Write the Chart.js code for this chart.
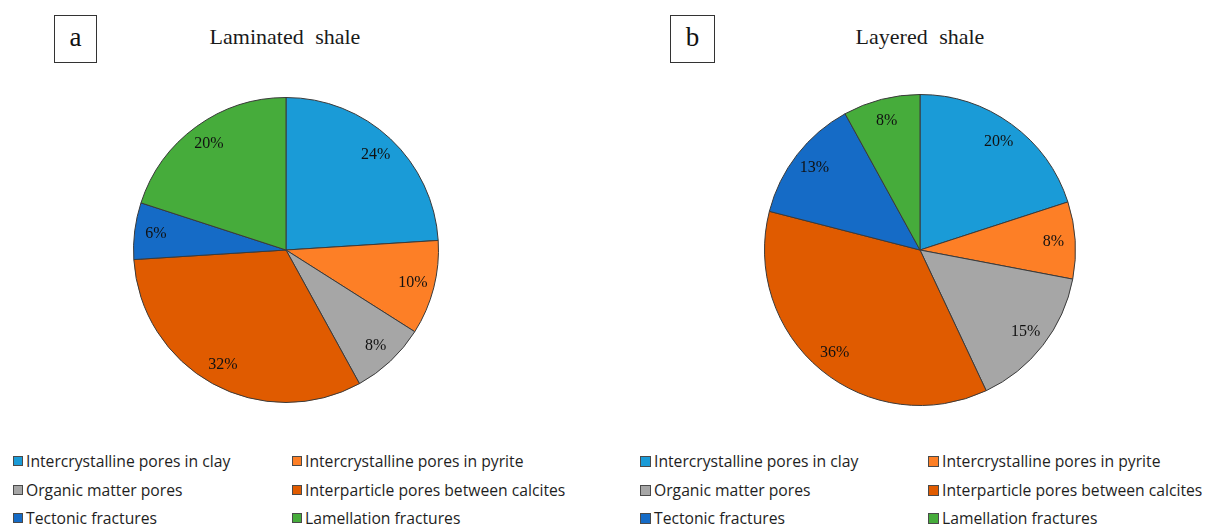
<!DOCTYPE html>
<html>
<head>
<meta charset="utf-8">
<script src="https://cdn.jsdelivr.net/npm/chart.js@4/dist/chart.umd.min.js"></script>
<style>
  html, body { margin: 0; padding: 0; background: #ffffff; }
  #page { position: relative; width: 1217px; height: 528px; overflow: hidden; background: #fff; }
  .panel-box { position: absolute; width: 43px; height: 48px; border: 1.5px solid #333; box-sizing: border-box;
    font-family: "Liberation Serif", "Times New Roman", serif; font-size: 27px; color: #111;
    display: flex; align-items: center; justify-content: center; padding-bottom: 4px; }
  .title { position: absolute; font-family: "Liberation Serif", "Times New Roman", serif; font-size: 22px;
    color: #1a1a1a; word-spacing: 6px; transform: translateX(-50%); white-space: nowrap; }
  .chart-wrap { position: absolute; }
  .legend-item { position: absolute; display: flex; align-items: center; white-space: nowrap;
    font-family: "Open Sans", "Noto Sans", sans-serif; font-size: 15.7px; color: #1e1e1e; transform: translateY(-50%); }
  .legend-swatch { display: inline-block; box-sizing: border-box; border: 1px solid #4a4a4a; margin-right: 3px; }
</style>
</head>
<body>
<div id="page">
  <div class="panel-box" style="left:54px; top:15px;">a</div>
  <div class="panel-box" style="left:670px; top:15px; width:45px;">b</div>
  <div class="title" id="titleA" style="left:285px; top:24px;"></div>
  <div class="title" id="titleB" style="left:920px; top:24px;"></div>
  <div class="chart-wrap" style="left:131px; top:95px; width:310px; height:310px;"><canvas id="pieA"></canvas></div>
  <div class="chart-wrap" style="left:763px; top:93px; width:314px; height:314px;"><canvas id="pieB"></canvas></div>
  <div id="legendA"></div>
  <div id="legendB"></div>
</div>
<script>
// Pore / fracture types and their shares (%) in the two shale lithofacies
const categories = [
  "Intercrystalline pores in clay",
  "Intercrystalline pores in pyrite",
  "Organic matter pores",
  "Interparticle pores between calcites",
  "Tectonic fractures",
  "Lamellation fractures"
];
const laminatedShale = [24, 10, 8, 32, 6, 20];
const layeredShale = [20, 8, 15, 36, 13, 8];
const chartTitles = ["Laminated shale", "Layered shale"];

const sliceColors = ["#1A9BD7", "#FD7F26", "#A6A6A6", "#E05B00", "#156BC6", "#46AC3B"];

document.getElementById("titleA").textContent = chartTitles[0];
document.getElementById("titleB").textContent = chartTitles[1];

// Percentage labels placed along each slice's mid-angle, near the rim
const sliceLabels = {
  id: "sliceLabels",
  afterDatasetsDraw(chart, args, opts) {
    const ctx = chart.ctx;
    const meta = chart.getDatasetMeta(0);
    const values = chart.data.datasets[0].data;
    ctx.save();
    ctx.font = opts.font || "15px 'Liberation Serif', serif";
    ctx.fillStyle = opts.color || "#1a1a1a";
    ctx.textAlign = "center";
    ctx.textBaseline = "middle";
    meta.data.forEach((arc, i) => {
      const p = arc.getProps(["x", "y", "startAngle", "endAngle", "outerRadius"], true);
      const mid = (p.startAngle + p.endAngle) / 2;
      const r = p.outerRadius * (opts.radiusFactor || 0.86);
      ctx.fillText(values[i] + "%", p.x + Math.cos(mid) * r, p.y + Math.sin(mid) * r);
    });
    ctx.restore();
  }
};

function makePie(id, values, padding) {
  return new Chart(document.getElementById(id), {
    type: "pie",
    data: {
      labels: categories,
      datasets: [{
        data: values,
        backgroundColor: sliceColors,
        borderColor: "#3a3a3a",
        borderWidth: 1
      }]
    },
    options: {
      responsive: true,
      maintainAspectRatio: false,
      animation: false,
      layout: { padding: padding },
      plugins: {
        legend: { display: false },
        tooltip: { enabled: false },
        title: { display: false },
        sliceLabels: { font: "16px 'Liberation Serif', serif", color: "#111111", radiusFactor: 0.86 }
      }
    },
    plugins: [sliceLabels]
  });
}

makePie("pieA", laminatedShale, 2);
makePie("pieB", layeredShale, 1);

// Two-column legends below each pie
function buildLegend(containerId, cols, rows, swatch) {
  const box = document.getElementById(containerId);
  categories.forEach((name, i) => {
    const item = document.createElement("div");
    item.className = "legend-item";
    item.style.left = cols[i % 2] + "px";
    item.style.top = rows[Math.floor(i / 2)] + "px";
    const sw = document.createElement("span");
    sw.className = "legend-swatch";
    sw.style.width = swatch + "px";
    sw.style.height = swatch + "px";
    sw.style.background = sliceColors[i];
    const label = document.createElement("span");
    label.textContent = name;
    item.appendChild(sw);
    item.appendChild(label);
    box.appendChild(item);
  });
}
buildLegend("legendA", [13, 292], [461, 490, 518], 10);
buildLegend("legendB", [640, 928], [461, 490, 518], 11);
</script>
</body>
</html>
